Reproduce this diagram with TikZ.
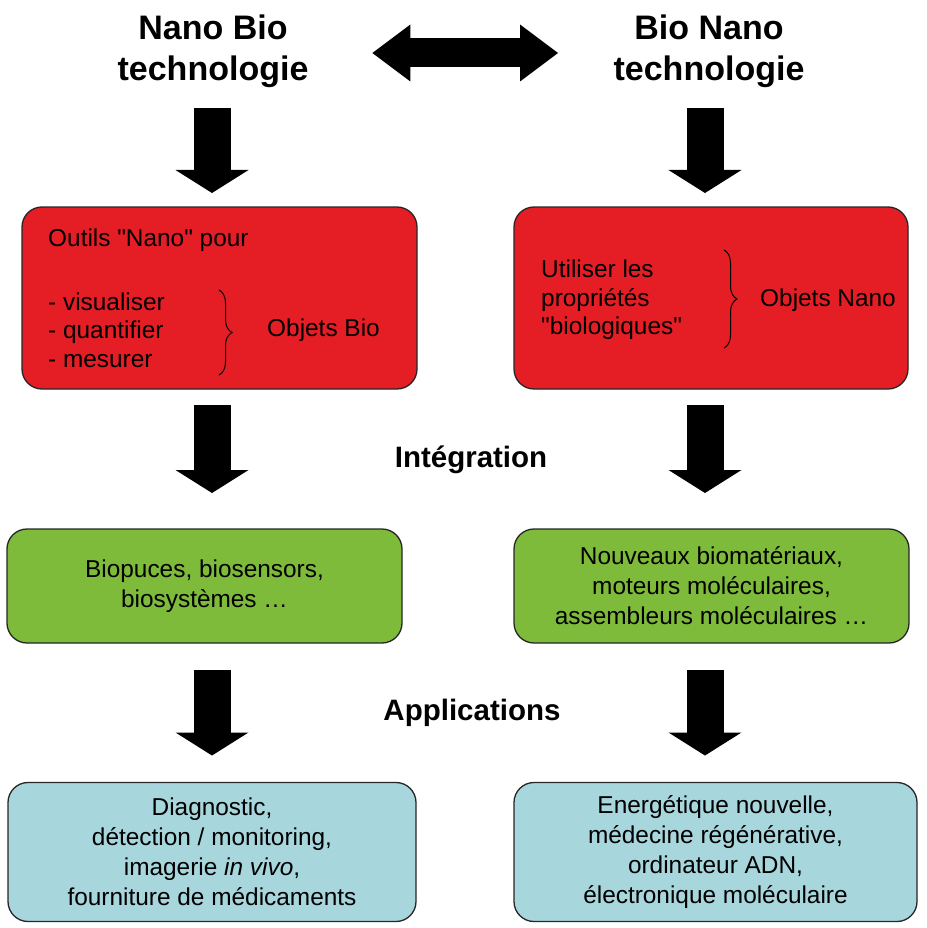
\documentclass[tikz,border=0pt]{standalone}
\usepackage{fontspec}
\setmainfont{Liberation Sans}
\usetikzlibrary{arrows.meta,decorations.pathreplacing}

\definecolor{nbred}{RGB}{229,30,37}
\definecolor{nbgreen}{RGB}{126,187,59}
\definecolor{nbblue}{RGB}{167,214,221}

\tikzset{
	box/.style={draw=black!85, line width=1.3pt, rounded corners=20pt, inner sep=0pt, outer sep=0pt, align=center, font=\fontsize{24.4}{30}\selectfont},
	redbox/.style={box, fill=nbred, minimum width=395pt, minimum height=182pt},
	greenbox/.style={box, fill=nbgreen, minimum width=395pt, minimum height=114pt},
	bluebox/.style={box, fill=nbblue, minimum height=139pt},
	txt/.style={inner sep=0pt, align=left, anchor=west, font=\fontsize{24.4}{28.5}\selectfont},
	title/.style={inner sep=0pt, outer sep=0pt, align=center, font=\fontsize{34}{41}\selectfont\bfseries},
	stage/.style={inner sep=0pt, font=\fontsize{29.5}{34}\selectfont\bfseries},
	bigarrow/.style={line width=37pt, -{Triangle[width=73pt,length=23pt,line width=0pt]}},
	dblarrow/.style={line width=29pt, {Triangle[width=57pt,length=38pt,line width=0pt]}-{Triangle[width=57pt,length=38pt,line width=0pt]}},
	curly/.style={decorate, decoration={brace,amplitude=13pt}, line width=1pt}
}

\begin{document}
\begin{tikzpicture}[x=1pt,y=-1pt]
	\useasboundingbox (0,0) rectangle (926,928);
	% titles
	\node[title] (nbt) at (213,51.5) {Nano Bio\\technologie};
	\node[title] (bnt) at (709,51.5) {Bio Nano\\technologie};
	% boxes
	\node[redbox] (redL) at (219.5,298) {};
	\node[redbox, minimum width=394pt] (redR) at (711,298) {};
	\node[greenbox] (greenL) at (204.5,586) {Biopuces, biosensors,\\biosystèmes …};
	\node[greenbox] (greenR) at (711.5,586) {Nouveaux biomatériaux,\\moteurs moléculaires,\\assembleurs moléculaires …};
	\node[bluebox, minimum width=408pt] (blueL) at (212,852) {Diagnostic,\\détection / monitoring,\\imagerie \textit{in vivo},\\fourniture de médicaments};
	\node[bluebox, minimum width=403pt] (blueR) at (715.5,852) {Energétique nouvelle,\\médecine régénérative,\\ordinateur ADN,\\électronique moléculaire};
	% red box contents
	\node[txt] (outils) at (48,240) {Outils \textquotedbl Nano\textquotedbl{} pour};
	\node[txt] (verbs) at (48,330) {- visualiser\\- quantifier\\- mesurer};
	\node[txt] (objbio) at (267,330) {Objets Bio};
	\draw[curly] (219,290) -- (219,375);
	\node[txt] (props) at (541,300) {Utiliser les\\propriétés\\\textquotedbl biologiques\textquotedbl};
	\node[txt] (objnano) at (760,300) {Objets Nano};
	\draw[curly] (724,250) -- (724,348);
	% stage labels
	\node[stage] (integ) at (471,460) {Intégration};
	\node[stage] (appli) at (472,713) {Applications};
	% arrows
	\coordinate (colL) at (212,0);
	\coordinate (colR) at (705,0);
	\coordinate (dbl) at (0,53);
	\draw[dblarrow, shorten <=64pt, shorten >=55.6pt] (nbt.east |- dbl) -- (bnt.west |- dbl);
	\draw[bigarrow, shorten <=20pt, shorten >=14pt] (colL |- nbt.south) -- (colL |- redL.north);
	\draw[bigarrow, shorten <=20pt, shorten >=14pt] (colR |- bnt.south) -- (colR |- redR.north);
	\draw[bigarrow, shorten <=16pt, shorten >=36pt] (colL |- redL.south) -- (colL |- greenL.north);
	\draw[bigarrow, shorten <=16pt, shorten >=36pt] (colR |- redR.south) -- (colR |- greenR.north);
	\draw[bigarrow, shorten <=27pt, shorten >=27pt] (colL |- greenL.south) -- (colL |- blueL.north);
	\draw[bigarrow, shorten <=27pt, shorten >=27pt] (colR |- greenR.south) -- (colR |- blueR.north);
\end{tikzpicture}
\end{document}
